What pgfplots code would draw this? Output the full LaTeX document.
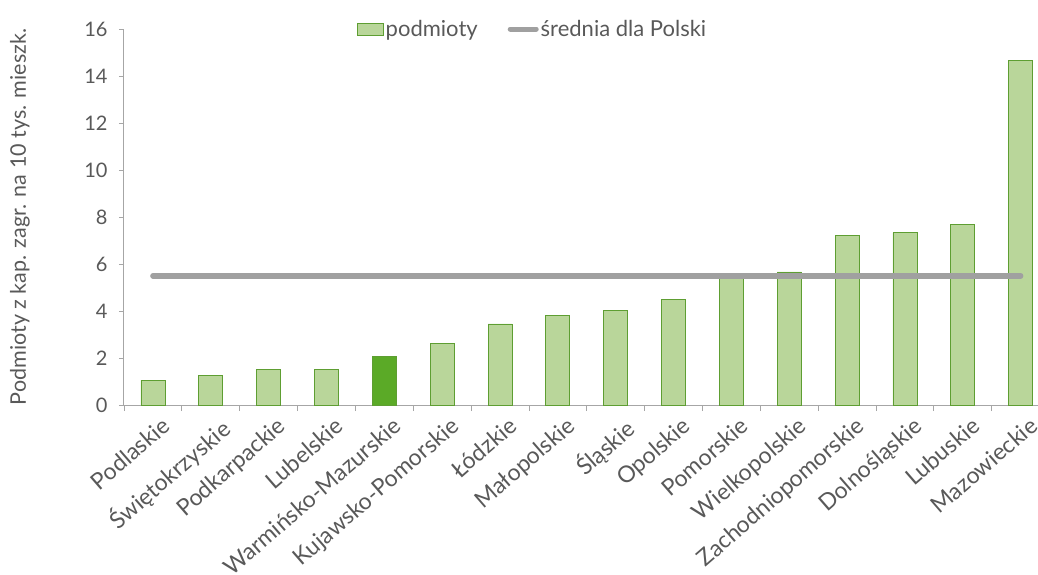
\documentclass[border=0pt]{standalone}
\usepackage{pgfplots}
\pgfplotsset{compat=1.18}
\usepackage{fontspec}
\setmainfont{Lato}
\definecolor{txt}{HTML}{595959}
\definecolor{axg}{HTML}{A6A6A6}
\definecolor{barf}{HTML}{B9D69A}
\definecolor{bard}{HTML}{5E9E32}
\definecolor{barh}{HTML}{5BAA27}
\definecolor{avg}{HTML}{A0A0A0}
\begin{document}
\begin{tikzpicture}
\path[use as bounding box] (-124pt,-169pt) rectangle (914pt,405pt);
\begin{axis}[
  at={(0pt,0pt)}, anchor=south west,
  scale only axis, width=914pt, height=376pt,
  xmin=-0.5, xmax=15.3, ymin=0, ymax=16,
  ytick={0,2,...,16},
  xtick={0,...,15},
  xticklabels={Podlaskie,Świętokrzyskie,Podkarpackie,Lubelskie,Warmińsko-Mazurskie,Kujawsko-Pomorskie,Łódzkie,Małopolskie,Śląskie,Opolskie,Pomorskie,Wielkopolskie,Zachodniopomorskie,Dolnośląskie,Lubuskie,Mazowieckie},
  minor xtick={-0.5,0.5,...,14.5},
  major x tick style={draw=none},
  tick align=outside,
  major tick length=5pt, minor tick length=6pt,
  every tick/.style={axg, line width=0.8pt},
  axis x line*=bottom, axis y line*=left,
  axis line style={axg, line width=1pt, -},
  x tick label style={rotate=41, anchor=north east, font=\fontsize{23}{28}\selectfont, text=txt, inner sep=1pt, xshift=3pt, yshift=-8pt},
  y tick label style={font=\fontsize{20}{24}\selectfont, text=txt, xshift=-8pt},
  /pgf/number format/assume math mode=true,
  ylabel={Podmioty z kap. zagr. na 10 tys. mieszk.},
  ylabel style={at={(axis description cs:-0.114,0.5)}, anchor=center, font=\fontsize{21.5}{24}\selectfont, text=txt},
  legend style={draw=none, fill=none, at={(0.447,1)}, anchor=center, legend columns=2, font=\fontsize{22}{26}\selectfont, text=txt, /tikz/every even column/.append style={column sep=28pt}},
  clip=false,
]
\addplot[ybar, bar width=24pt, bar shift=0pt, fill=barf, draw=bard, line width=0.8pt, legend image code/.code={\draw[fill=barf, draw=bard, line width=0.8pt] (0pt,-6pt) rectangle (26pt,6pt);}] coordinates {
(0,1.06) (1,1.27) (2,1.53) (3,1.53) (5,2.61) (6,3.45) (7,3.83) (8,4.04) (9,4.51) (10,5.45) (11,5.66) (12,7.20) (13,7.33) (14,7.67) (15,14.68)};
\addlegendentry{podmioty}
\addplot[ybar, bar width=24pt, bar shift=0pt, fill=barh, draw=bard, line width=0.8pt, forget plot] coordinates {(4,2.05)};
\addplot[avg, line width=5.5pt, line cap=round, legend image code/.code={\draw[avg, line width=5pt, line cap=round] (0pt,0pt) -- (26pt,0pt);}] coordinates {(0,5.5) (15,5.5)};
\addlegendentry{średnia dla Polski}
\end{axis}
\end{tikzpicture}
\end{document}
